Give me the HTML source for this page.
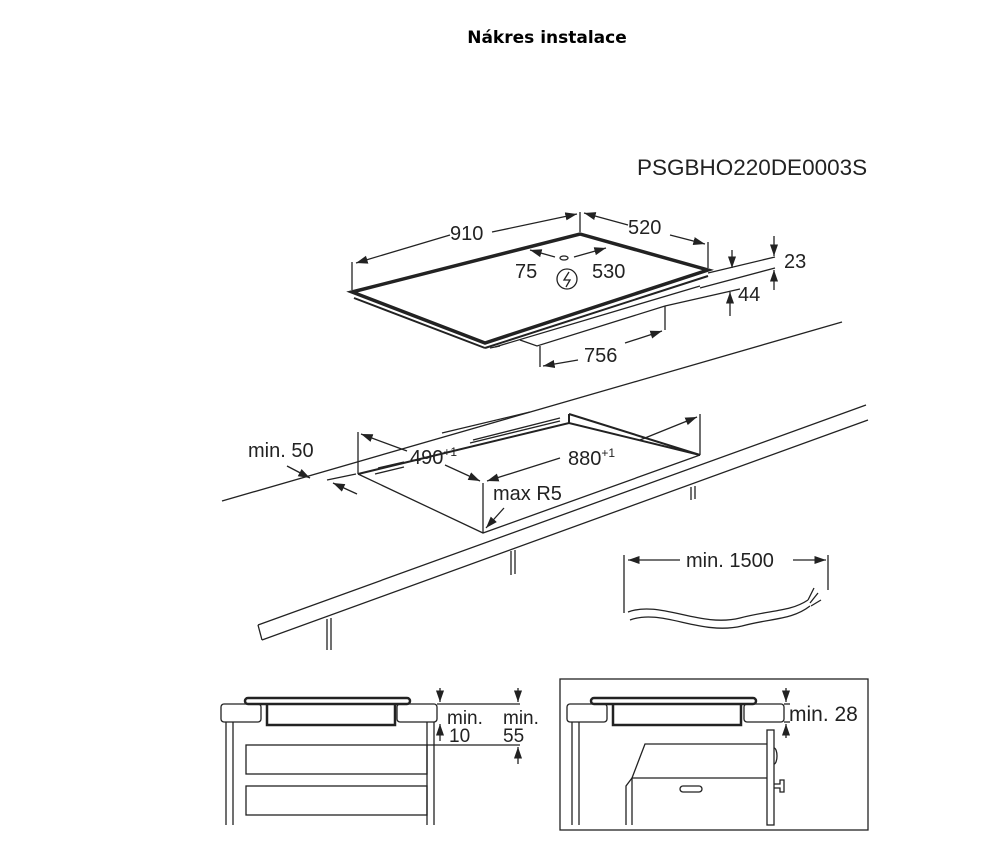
<!DOCTYPE html>
<html><head><meta charset="utf-8"><style>
html,body{margin:0;padding:0;background:#fff;width:988px;height:849px;overflow:hidden}
svg{display:block}
text{font-family:"Liberation Sans",sans-serif;fill:#222}
</style></head><body>
<svg width="988" height="849" viewBox="0 0 988 849">
<defs>
<marker id="a" viewBox="0 0 10 10" refX="10" refY="5" markerWidth="9" markerHeight="9" orient="auto-start-reverse"><path d="M0,1.5 L10,5 L0,8.5 Z" fill="#222"/></marker>
</defs>
<text x="547" y="43" text-anchor="middle" style="font-family:'DejaVu Sans',sans-serif;font-size:17px;font-weight:bold;fill:#000">Nákres instalace</text>
<text x="637" y="175" font-size="22.5">PSGBHO220DE0003S</text>

<g stroke="#222" fill="none" stroke-width="1.3">
<polygon points="352,292 580,234 708,270 485,343" stroke-width="3.5" fill="#fff"/>
<line x1="354" y1="298" x2="485" y2="348" stroke-width="2"/>
<line x1="485" y1="348" x2="708" y2="276" stroke-width="2"/>
<line x1="490" y1="348" x2="500" y2="346"/>
<polyline points="495,347 700,286"/>
<polyline points="520,340 537,346 665,306"/>
<line x1="352" y1="290" x2="352" y2="262"/>
<line x1="580" y1="232" x2="580" y2="212"/>
<line x1="708" y1="268" x2="708" y2="242"/>
<line x1="450" y1="235" x2="356" y2="263" marker-end="url(#a)"/>
<line x1="492" y1="232" x2="577" y2="214" marker-end="url(#a)"/>
<line x1="628" y1="225" x2="584" y2="213" marker-end="url(#a)"/>
<line x1="670" y1="235" x2="705" y2="244" marker-end="url(#a)"/>
<line x1="555" y1="257" x2="530" y2="250" marker-end="url(#a)"/>
<line x1="574" y1="257" x2="606" y2="248" marker-end="url(#a)"/>
<ellipse cx="564" cy="258" rx="4" ry="2"/>
<circle cx="567" cy="279" r="10"/>
<path d="M569,272 L564,280 L570,280 L566,287" stroke-width="1.3"/>
<line x1="708" y1="273" x2="775" y2="257"/>
<line x1="700" y1="288" x2="775" y2="268"/>
<line x1="665" y1="306" x2="740" y2="289"/>
<line x1="732" y1="250" x2="732" y2="268" marker-end="url(#a)"/>
<line x1="774" y1="236" x2="774" y2="256" marker-end="url(#a)"/>
<line x1="774" y1="290" x2="774" y2="270" marker-end="url(#a)"/>
<line x1="730" y1="316" x2="730" y2="292" marker-end="url(#a)"/>
<line x1="540" y1="346" x2="540" y2="367"/>
<line x1="665" y1="306" x2="665" y2="330"/>
<line x1="578" y1="360" x2="543" y2="366" marker-end="url(#a)"/>
<line x1="625" y1="343" x2="662" y2="331" marker-end="url(#a)"/>
<line x1="222" y1="501" x2="842" y2="322"/>
<line x1="258" y1="625" x2="866" y2="405"/>
<line x1="262" y1="640" x2="868" y2="420"/>
<line x1="258" y1="625" x2="262" y2="640"/>
<line x1="327" y1="619" x2="327" y2="650"/><line x1="331" y1="618" x2="331" y2="650"/>
<line x1="511" y1="551" x2="511" y2="575"/><line x1="515" y1="550" x2="515" y2="574"/>
<line x1="691" y1="487" x2="691" y2="500"/><line x1="695" y1="486" x2="695" y2="499"/>
<polyline points="358,474 483,533 700,455" />
<polyline points="358,474 569,423 700,455" stroke-width="2"/>
<line x1="569" y1="414" x2="569" y2="423" stroke-width="2"/>
<line x1="569" y1="414" x2="700" y2="455" stroke-width="2"/>
<line x1="358" y1="432" x2="358" y2="474"/>
<line x1="700" y1="414" x2="700" y2="455"/>
<line x1="483" y1="483" x2="483" y2="533"/>
<line x1="378" y1="468" x2="404" y2="462"/><line x1="375" y1="474" x2="404" y2="467"/>
<line x1="470" y1="443" x2="560" y2="421"/><line x1="473" y1="440" x2="560" y2="418"/>
<line x1="442" y1="433" x2="530" y2="412"/>
<line x1="407" y1="451" x2="361" y2="434" marker-end="url(#a)"/>
<line x1="445" y1="465" x2="480" y2="481" marker-end="url(#a)"/>
<line x1="560" y1="458" x2="487" y2="481" marker-end="url(#a)"/>
<line x1="640" y1="440" x2="697" y2="417" marker-end="url(#a)"/>
<line x1="504" y1="508" x2="486" y2="528" marker-end="url(#a)"/>
<line x1="287" y1="466" x2="310" y2="478" marker-end="url(#a)"/>
<line x1="357" y1="494" x2="333" y2="483" marker-end="url(#a)"/>
<line x1="327" y1="480" x2="356" y2="474"/>
<line x1="624" y1="555" x2="624" y2="613"/>
<line x1="828" y1="555" x2="828" y2="590"/>
<line x1="680" y1="560" x2="628" y2="560" marker-end="url(#a)"/>
<line x1="793" y1="560" x2="826" y2="560" marker-end="url(#a)"/>
<path d="M628,612 C660,600 700,628 740,618 C770,610 790,612 808,600"/>
<path d="M630,620 C662,608 700,636 742,626 C772,618 792,620 810,606"/>
<path d="M808,600 l6,-12 M810,603 l8,-10 M811,606 l10,-6"/>
<rect x="245" y="698" width="165" height="6" rx="3" stroke-width="2.5"/>
<rect x="221" y="704" width="40" height="18" rx="3"/>
<rect x="397" y="704" width="40" height="18" rx="3"/>
<polyline points="267,704 267,725 395,725 395,704" stroke-width="2.5"/>
<line x1="226" y1="722" x2="226" y2="825"/><line x1="233" y1="722" x2="233" y2="825"/>
<line x1="427" y1="722" x2="427" y2="825"/><line x1="434" y1="722" x2="434" y2="825"/>
<rect x="246" y="745" width="181" height="29"/>
<rect x="246" y="786" width="181" height="29"/>
<line x1="437" y1="704" x2="520" y2="704"/>
<line x1="427" y1="745" x2="520" y2="745"/>
<line x1="440" y1="688" x2="440" y2="702" marker-end="url(#a)"/>
<line x1="440" y1="741" x2="440" y2="724" marker-end="url(#a)"/>
<line x1="518" y1="688" x2="518" y2="702" marker-end="url(#a)"/>
<line x1="518" y1="764" x2="518" y2="747" marker-end="url(#a)"/>
<rect x="560" y="679" width="308" height="151"/>
<rect x="591" y="698" width="165" height="6" rx="3" stroke-width="2.5"/>
<rect x="567" y="704" width="40" height="18" rx="3"/>
<rect x="744" y="704" width="40" height="18" rx="3"/>
<polyline points="613,704 613,725 741,725 741,704" stroke-width="2.5"/>
<line x1="572" y1="722" x2="572" y2="825"/><line x1="579" y1="722" x2="579" y2="825"/>
<line x1="784" y1="704" x2="790" y2="704"/><line x1="784" y1="722" x2="790" y2="722"/>
<line x1="786" y1="688" x2="786" y2="702" marker-end="url(#a)"/>
<line x1="786" y1="738" x2="786" y2="724" marker-end="url(#a)"/>
<rect x="767" y="730" width="7" height="95"/>
<path d="M774,748 a3,8 0 0 1 0,16"/>
<path d="M774,784 h6 v-4 h4 v12 h-4 v-4 h-6"/>
<polyline points="767,744 645,744 632,778 767,778"/>
<polyline points="632,778 626,786 626,825"/>
<line x1="632" y1="778" x2="632" y2="825"/>
<rect x="680" y="786" width="22" height="6" rx="3"/>
</g>

<g font-size="20">
<text x="450" y="240">910</text>
<text x="628" y="234">520</text>
<text x="515" y="278">75</text>
<text x="592" y="278">530</text>
<text x="784" y="268">23</text>
<text x="738" y="301">44</text>
<text x="584" y="362">756</text>
<text x="248" y="457">min. 50</text>
<text x="410" y="464">490<tspan font-size="12" dy="-8">+1</tspan></text>
<text x="568" y="465">880<tspan font-size="12" dy="-8">+1</tspan></text>
<text x="493" y="500">max R5</text>
<text x="686" y="567">min. 1500</text>
<text x="447" y="724" font-size="19">min.</text>
<text x="503" y="724" font-size="19">min.</text>
<text x="449" y="742" font-size="19">10</text>
<text x="503" y="742" font-size="19">55</text>
<text x="789" y="721" font-size="21">min. 28</text>
</g>
</svg>
</body></html>
